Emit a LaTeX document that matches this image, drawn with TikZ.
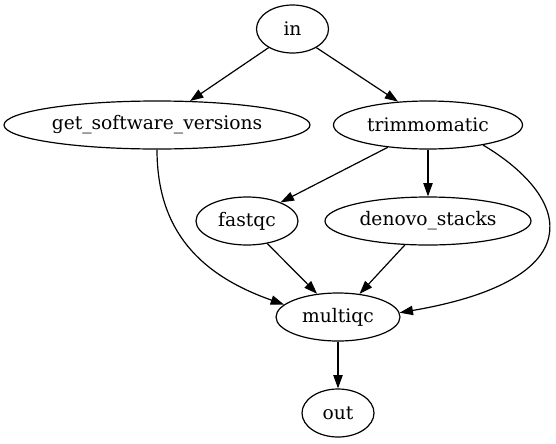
\documentclass[tikz,border=0pt]{standalone}
\usepackage{fontspec}
\setmainfont{DejaVu Serif}
\usetikzlibrary{arrows.meta,shapes.geometric}
\tikzset{
  gnode/.style={draw, ellipse, inner sep=0pt, minimum height=36pt, line width=0.9pt,
    font=\fontsize{14pt}{16pt}\selectfont},
  gedge/.style={draw, line width=0.9pt, -{Triangle[length=10pt,width=7pt]}}
}
\begin{document}
\begin{tikzpicture}[x=0.75pt,y=-0.75pt]
\useasboundingbox (0,0) rectangle (556,443);
\node[gnode, minimum width=54pt] (in) at (292.5,29) {in};
\node[gnode, minimum width=229.5pt] (gsv) at (157,125) {get\_software\_versions};
\node[gnode, minimum width=141.75pt] (trim) at (428,125) {trimmomatic};
\node[gnode, minimum width=76.5pt] (fastqc) at (247,221) {fastqc};
\node[gnode, minimum width=154.5pt] (denovo) at (428,221) {denovo\_stacks};
\node[gnode, minimum width=93pt] (multiqc) at (338,317) {multiqc};
\node[gnode, minimum width=54pt] (out) at (338,413) {out};

\draw[gedge] (in.218) -- (gsv.36);
\draw[gedge] (in.322) -- (trim.142);
\draw[gedge] (gsv.south) .. controls +(0,81) and (200,275) .. (multiqc.167);
\draw[gedge] (trim.209) -- (fastqc.29);
\draw[gedge] (trim.south) -- (denovo.north);
\draw[gedge] (trim.340) .. controls (575,200) and (590,280) .. (multiqc.4);
\draw[gedge] (fastqc.312) -- (multiqc.132);
\draw[gedge] (denovo.226) -- (multiqc.47);
\draw[gedge] (multiqc.south) -- (out.north);
\end{tikzpicture}
\end{document}
